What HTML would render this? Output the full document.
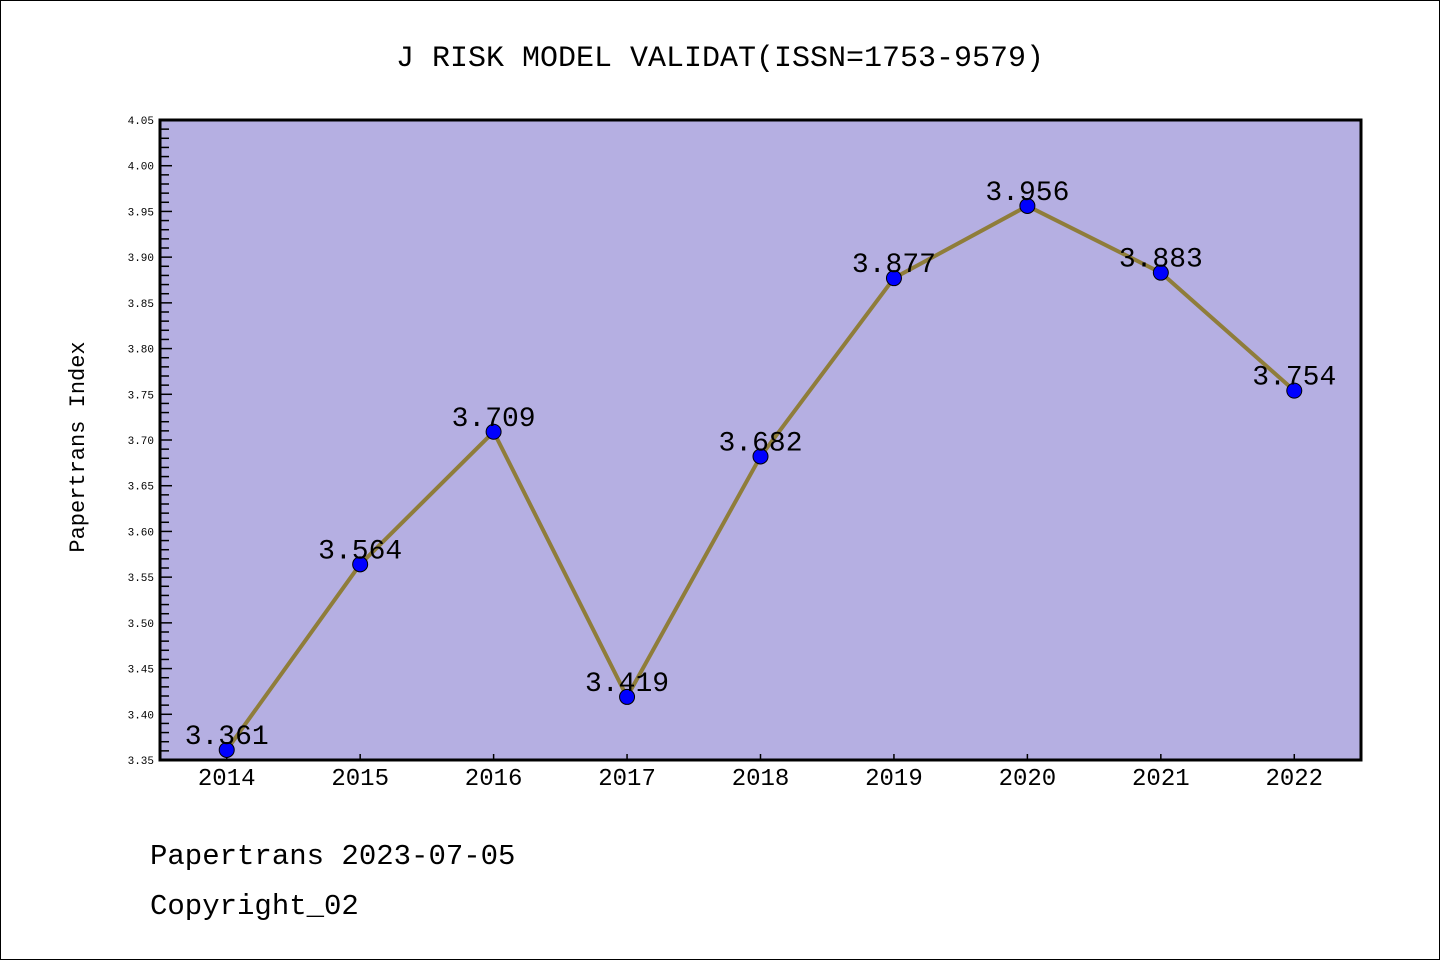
<!DOCTYPE html>
<html><head><meta charset="utf-8"><style>
html,body{margin:0;padding:0;background:#fff}
svg{display:block}
text{font-family:"Liberation Mono","DejaVu Sans Mono",monospace}
</style></head><body>
<svg id="chart" width="1440" height="960" xmlns="http://www.w3.org/2000/svg">
<rect x="0.5" y="0.5" width="1439" height="959" fill="#fff" stroke="#000"/>
<text x="720" y="66" text-anchor="middle" font-size="30">J RISK MODEL VALIDAT(ISSN=1753-9579)</text>
<rect x="160" y="120" width="1201" height="640" fill="#b5afe2"/>
<g id="yaxis"></g>
<g id="xaxis"></g>
<g id="series"></g>
<rect x="160" y="120" width="1201" height="640" fill="none" stroke="#000" stroke-width="3"/>
<text transform="translate(84,447) rotate(-90)" text-anchor="middle" font-size="22">Papertrans Index</text>
<text x="150" y="864" font-size="29">Papertrans 2023-07-05</text>
<text x="150" y="914" font-size="29">Copyright_02</text>
</svg>
<script>
const categories = ["2014","2015","2016","2017","2018","2019","2020","2021","2022"];
const values = [3.361,3.564,3.709,3.419,3.682,3.877,3.956,3.883,3.754];
const valueLabels = ["3.361","3.564","3.709","3.419","3.682","3.877","3.956","3.883","3.754"];
const yTicks = ["3.35","3.40","3.45","3.50","3.55","3.60","3.65","3.70","3.75","3.80","3.85","3.90","3.95","4.00","4.05"];

const NS="http://www.w3.org/2000/svg";
const L=160,R=1361,T=120,B=760,yMin=3.35,yMax=4.05;
const xs=i=>L+(R-L)/categories.length*(i+0.5);
const ys=v=>B-(v-yMin)/(yMax-yMin)*(B-T);
function mk(tag,attrs,parent){const e=document.createElementNS(NS,tag);for(const k in attrs)e.setAttribute(k,attrs[k]);parent.appendChild(e);return e;}
const ya=document.getElementById('yaxis'),xa=document.getElementById('xaxis'),sg=document.getElementById('series');
// minor ticks
for(let k=0;k<=Math.round((yMax-yMin)*100);k++){
  const v=yMin+k*0.01,y=ys(v),major=k%5===0;
  const t=mk('line',{x1:L,x2:L+(major?12:9),y1:y,y2:y,stroke:'#000','stroke-width':1.5},ya);
  
  
}
yTicks.forEach(s=>{
  const t=mk('text',{x:L-6,y:ys(parseFloat(s))+4,'text-anchor':'end','font-size':11,'font-family':'DejaVu Sans, sans-serif'},ya);
  t.textContent=s;
  
  
});
categories.forEach((c,i)=>{
  const tk=mk('line',{x1:xs(i),x2:xs(i),y1:B,y2:B-6,stroke:'#000','stroke-width':1.5},xa);
  
  
  const t=mk('text',{x:xs(i),y:785,'text-anchor':'middle','font-size':24,'font-family':'DejaVu Sans, sans-serif'},xa);
  t.textContent=c;
  
  
});
const pl=mk('polyline',{points:values.map((v,i)=>xs(i)+','+ys(v)).join(' '),fill:'none',stroke:'#8f7d3a','stroke-width':4,'stroke-linejoin':'round'},sg);


values.forEach((v,i)=>{
  const c=mk('circle',{cx:xs(i),cy:ys(v),r:7.5,fill:'#0000ff',stroke:'#000','stroke-width':1},sg);
  
  
});
values.forEach((v,i)=>{
  const t=mk('text',{x:xs(i),y:ys(v)-6,'text-anchor':'middle','font-size':28},sg);
  t.textContent=valueLabels[i];
  
  
});
</script>
</body></html>
